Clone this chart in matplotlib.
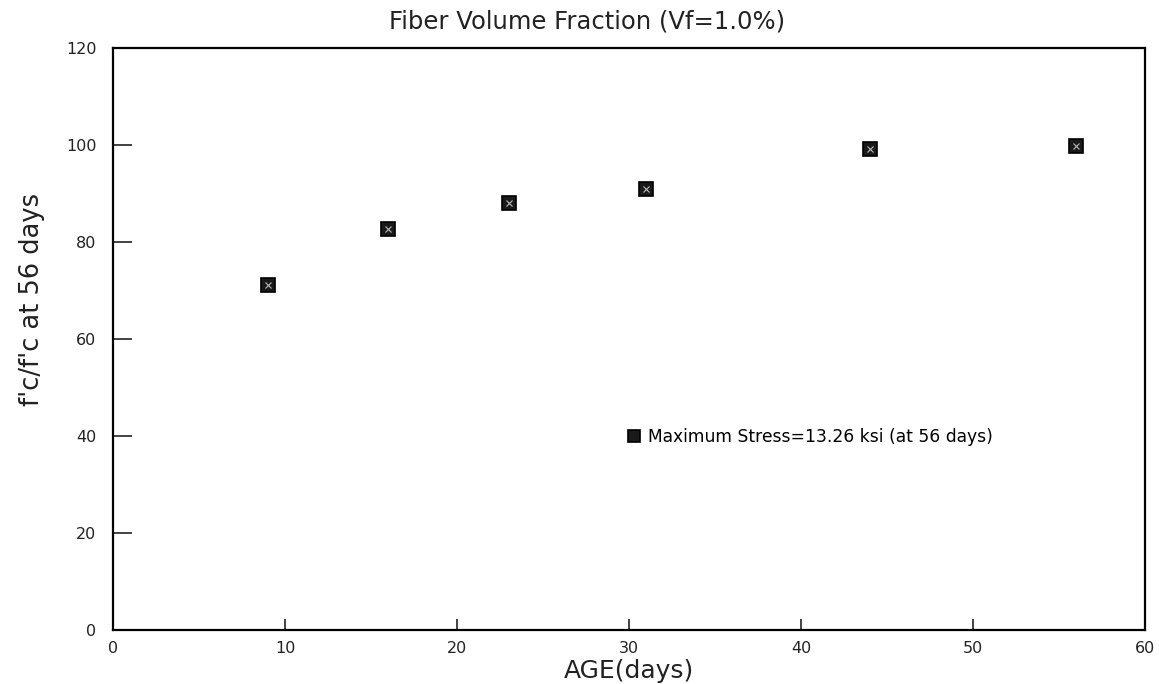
import matplotlib
matplotlib.use("Agg")
import matplotlib.pyplot as plt

age_days = [9, 16, 23, 31, 44, 56]
strength_ratio = [71.2, 82.6, 88.0, 91.0, 99.1, 99.8]
x_ticks = [0, 10, 20, 30, 40, 50, 60]
y_ticks = [0, 20, 40, 60, 80, 100, 120]
legend_label = "Maximum Stress=13.26 ksi (at 56 days)"

plt.rcParams['font.family'] = ['DejaVu Sans']

fig = plt.figure(figsize=(11.59, 6.84), dpi=100)
ax = fig.add_axes([0.0975, 0.079, 0.8905, 0.851])

pts, = ax.plot(age_days, strength_ratio, linestyle="none", marker="s",
               markersize=10, markerfacecolor="#1a1a1a", markeredgecolor="black",
               markeredgewidth=1.2, label=legend_label)
ax.plot(age_days, strength_ratio, linestyle="none", marker="x",
        markersize=4, markeredgecolor="#bbbbbb", markeredgewidth=0.8)

ax.set_xlim(0, 60)
ax.set_ylim(0, 120)
ax.set_xticks(x_ticks)
ax.set_yticks(y_ticks)
ax.tick_params(axis="y", direction="in", length=14, width=1.2, labelsize=11.5,
               pad=12, colors="#222222")
ax.tick_params(axis="x", direction="in", length=8, width=1.2, labelsize=11.5,
               pad=8, colors="#222222")
for s in ax.spines.values():
    s.set_linewidth(1.6)

ax.set_title("Fiber Volume Fraction (Vf=1.0%)", fontsize=17.5, x=0.459,
             y=1.0, pad=14, color="#222222")
ax.set_xlabel("AGE(days)", fontsize=18, labelpad=2, color="#222222")
ax.set_ylabel("f'c/f'c at 56 days", fontsize=18.5, color="#222222")
ax.yaxis.set_label_coords(-0.066, 0.567)

ax.legend(handles=[pts], loc="center left", bbox_to_anchor=(0.485, 0.332),
          frameon=False, fontsize=12.3, handlelength=0.6, handletextpad=0.5,
          markerscale=0.9)

fig.savefig("out.png", dpi=100)
